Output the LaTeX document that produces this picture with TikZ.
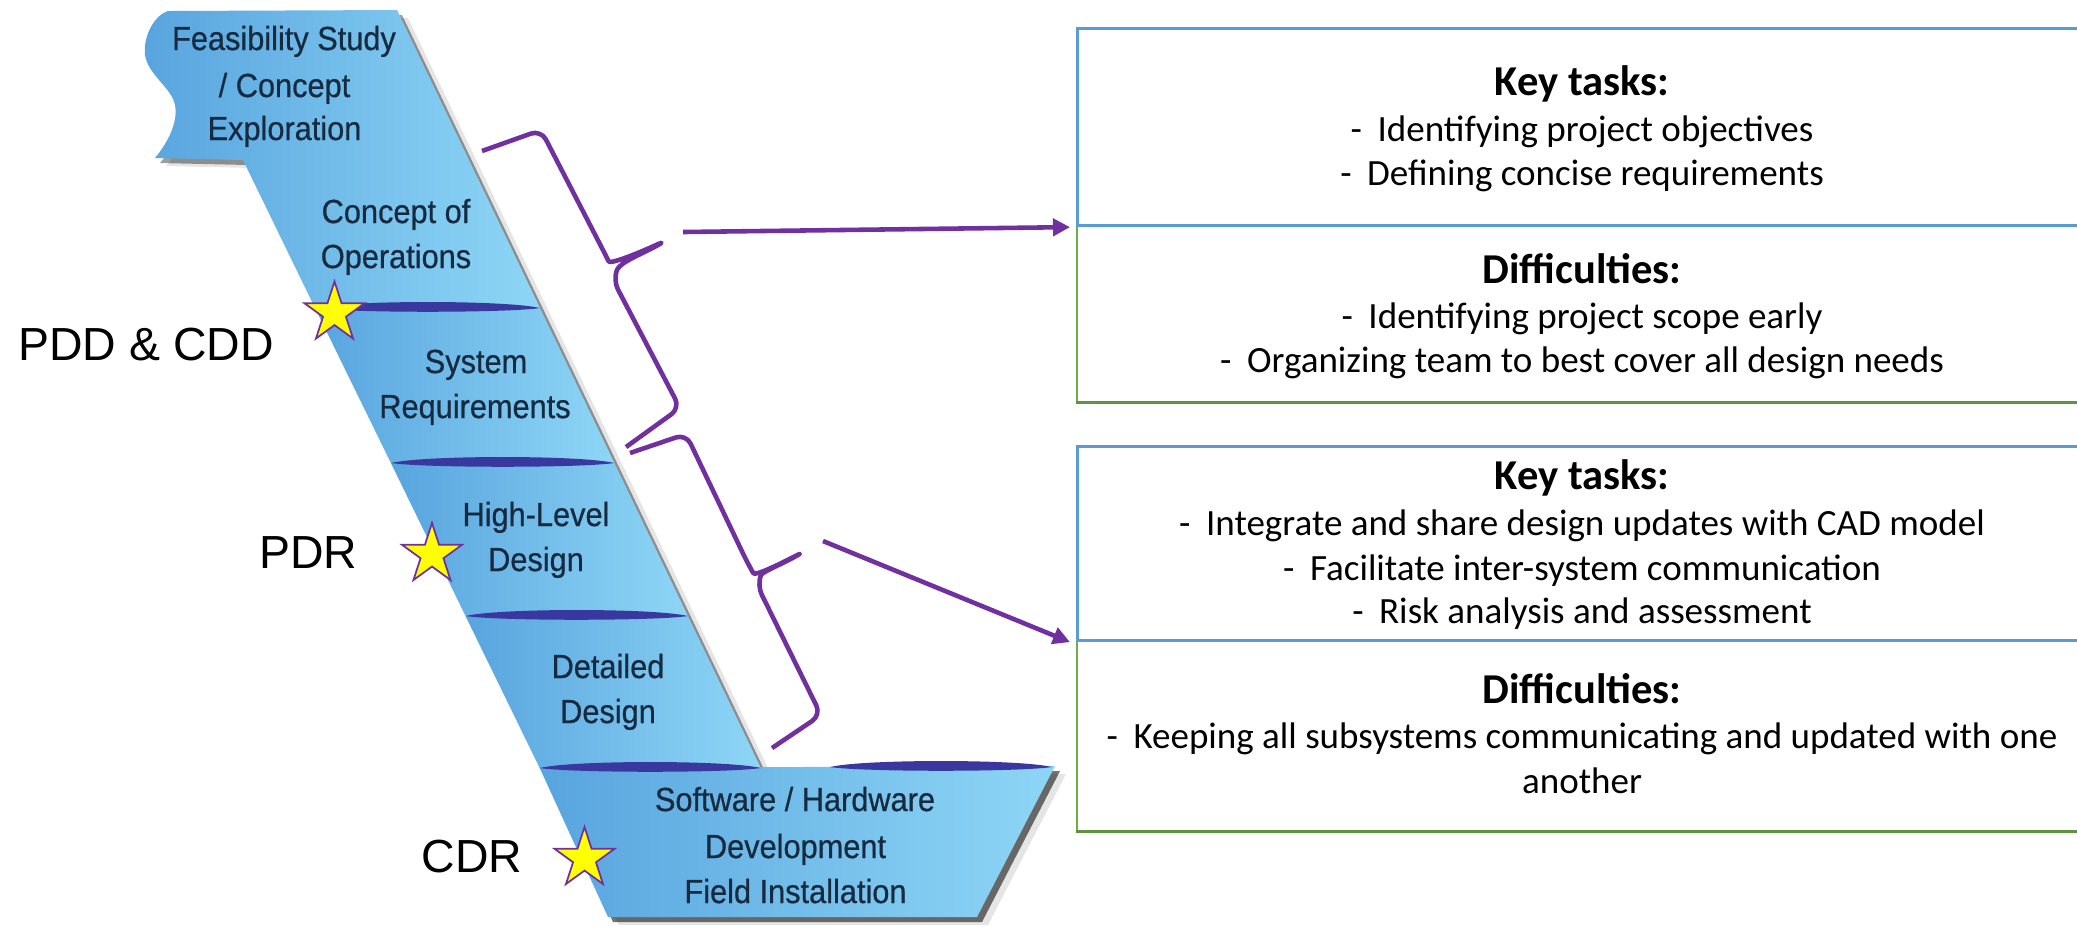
\documentclass[tikz,border=0pt]{standalone}
\usepackage{fontspec}
\usetikzlibrary{shapes.geometric,arrows.meta}
\newfontfamily\boxfont{Carlito}
\newfontfamily\labfont{Liberation Sans}
\newfontfamily\stepfont[FakeStretch=0.92,FakeBold=0.6]{Liberation Sans}

\definecolor{kblue}{HTML}{5B9BD5}
\definecolor{dgreen}{HTML}{70AD47}
\definecolor{dgreendark}{HTML}{5E9440}
\definecolor{brpurple}{HTML}{7030A0}
\definecolor{stepL}{RGB}{88,164,222}
\definecolor{stepR}{RGB}{142,214,246}
\definecolor{sepblue}{RGB}{56,56,158}
\definecolor{steptext}{RGB}{22,42,64}
\definecolor{starfill}{HTML}{FFFF00}

% outlines of the waterfall stages (units: 1 = 0.01cm, y grows downward)
\newcommand\stageA{(168,11) -- (397,10) -- (540,308) -- (315,308) -- (243,160) -- (155,158)
  .. controls (170,140) and (178,120) .. (175,105)
  .. controls (172,88) and (148,75) .. (145,55)
  .. controls (143,35) and (155,15) .. cycle}
\newcommand\stageB{(315,308) -- (540,308) -- (614.4,463) -- (390.9,463) -- cycle}
\newcommand\stageC{(390.9,463) -- (614.4,463) -- (687.9,616) -- (465.5,616) -- cycle}
\newcommand\stageD{(465.5,616) -- (687.9,616) -- (760.8,768) -- (539.7,768) -- cycle}
\newcommand\stageE{(539.7,768) -- (1055,766) -- (977,917) -- (608,917) -- cycle}

% dark lens separating two stages: left x, right x, y
\newcommand\seplens[3]{%
  \fill[sepblue] (#1,#3) .. controls ({#1+0.15*(#2-#1)},{#3-8}) and ({#2-0.15*(#2-#1)},{#3-8}) .. (#2,#3)
    .. controls ({#2-0.15*(#2-#1)},{#3+5}) and ({#1+0.15*(#2-#1)},{#3+5}) .. cycle;}

\tikzset{
  stagefill/.style={left color=stepL, right color=stepR},
  steptxt/.style={anchor=base, inner sep=0, text=steptext,
    font=\stepfont\fontsize{9.5pt}{10pt}\selectfont},
  milestone/.style={anchor=base, inner sep=0, text=black,
    font=\labfont\fontsize{13.2pt}{15pt}\selectfont},
  starnode/.style={star, star points=5, star point ratio=2.618, minimum size=0.63cm,
    inner sep=0, fill=starfill, draw=brpurple, line width=0.5pt},
  brace/.style={draw=brpurple, line width=1.3pt, line join=round, rounded corners=3pt},
  linkarrow/.style={draw=brpurple, line width=1.3pt, -{Triangle[length=0.17cm,width=0.17cm]}},
  taskbox/.style={anchor=north west, inner sep=0, minimum width=10.4cm, draw=kblue, line width=0.85pt},
  issuebox/.style={anchor=north west, inner sep=0, minimum width=10.4cm, draw=dgreen, line width=0.45pt},
  boxhead/.style={anchor=base, inner sep=0, font=\boxfont\bfseries\fontsize{12.1pt}{14pt}\selectfont},
  boxline/.style={anchor=base, inner sep=0, font=\boxfont\fontsize{10.53pt}{12.6pt}\selectfont},
}
\newcommand\dashitem{-\hspace{0.42em}}

\begin{document}
\begin{tikzpicture}[x=0.01cm, y=-0.01cm]
\clip (0,0) rectangle (2077,926);
\fill[white] (0,0) rectangle (2077,926);

% drop shadows of the stages
\begin{scope}[shift={(11,8)}]
  \fill[black, opacity=0.10] \stageA; \fill[black, opacity=0.10] \stageB;
  \fill[black, opacity=0.10] \stageC; \fill[black, opacity=0.10] \stageD;
  \fill[black, opacity=0.10] \stageE;
\end{scope}
\begin{scope}[shift={(5,5)}]
  \fill[black, opacity=0.38] \stageA; \fill[black, opacity=0.38] \stageB;
  \fill[black, opacity=0.38] \stageC; \fill[black, opacity=0.38] \stageD;
  \fill[black, opacity=0.55] \stageE;
\end{scope}

% stages
\shade[stagefill] \stageA;
\shade[stagefill] \stageB;
\shade[stagefill] \stageC;
\shade[stagefill] \stageD;
\shade[stagefill] \stageE;

% separators
\seplens{315.2}{540}{308}
\seplens{390.9}{614.4}{463}
\seplens{465.5}{687.9}{616}
\seplens{539.7}{760.8}{768}
\seplens{830}{1052}{767}

% stage labels
\node[steptxt] (fs1) at (284,50) {Feasibility Study};
\node[steptxt] (fs2) at (284.5,97) {/ Concept};
\node[steptxt] (fs3) at (284.5,140) {Exploration};
\node[steptxt] (co1) at (396,223) {Concept of};
\node[steptxt] (co2) at (396,268) {Operations};
\node[steptxt] (sr1) at (476,373) {System};
\node[steptxt] (sr2) at (475,418) {Requirements};
\node[steptxt] (hl1) at (536,526) {High-Level};
\node[steptxt] (hl2) at (536,571) {Design};
\node[steptxt] (dd1) at (608,678) {Detailed};
\node[steptxt] (dd2) at (608,723) {Design};
\node[steptxt] (sw1) at (795,811) {Software / Hardware};
\node[steptxt] (sw2) at (795.5,858) {Development};
\node[steptxt] (sw3) at (795.5,903) {Field Installation};

% review milestones
\node[starnode] (s1) at (334.5,313) {};
\node[starnode] (s2) at (432,554.5) {};
\node[starnode] (s3) at (584.5,858.5) {};
\node[milestone] (m1) at (146,360) {PDD \& CDD};
\node[milestone] (m2) at (308.5,568) {PDR};
\node[milestone] (m3) at (472,872) {CDR};

% information boxes
\node[issuebox, minimum height=1.75cm] (df1) at (1076,225.5) {};
\draw[dgreendark, line width=0.85pt] (df1.south west) -- (df1.south east);
\node[taskbox, minimum height=1.97cm] (kt1) at (1076,27) {};
\node[issuebox, minimum height=1.89cm] (df2) at (1076,640.5) {};
\draw[dgreendark, line width=0.85pt] (df2.south west) -- (df2.south east);
\node[taskbox, minimum height=1.94cm] (kt2) at (1076,445) {};

\node[boxhead] (kt1h) at (1582,95) {Key tasks:};
\node[boxline] (kt1a) at (1582,141) {\dashitem Identifying project objectives};
\node[boxline] (kt1b) at (1582,185) {\dashitem Defining concise requirements};
\node[boxhead] (df1h) at (1582,283) {Difficulties:};
\node[boxline] (df1a) at (1582,328) {\dashitem Identifying project scope early};
\node[boxline] (df1b) at (1582,372) {\dashitem Organizing team to best cover all design needs};

\node[boxhead] (kt2h) at (1582,489) {Key tasks:};
\node[boxline] (kt2a) at (1582,535) {\dashitem Integrate and share design updates with CAD model};
\node[boxline] (kt2b) at (1582,580) {\dashitem Facilitate inter-system communication};
\node[boxline] (kt2c) at (1582,623) {\dashitem Risk analysis and assessment};
\node[boxhead] (df2h) at (1582,703) {Difficulties:};
\node[boxline] (df2a) at (1582,748) {\dashitem Keeping all subsystems communicating and updated with one};
\node[boxline] (df2b) at (1582,793) {another};

% braces grouping the stages
\draw[brace] (482,151) -- (541,130) -- (604,252)
  .. controls (610,264) and (632,256) .. (667,240)
  .. controls (642,254) and (620,262) .. (613,280) -- (680,408) -- (626,447);
\draw[brace] (630,453) -- (686,434) -- (748,564)
  .. controls (755,576) and (776,566) .. (805,551)
  .. controls (782,564) and (762,572) .. (757,585) -- (821,715) -- (772,748);

% links from braces to boxes
\coordinate (b1) at (683,232);
\coordinate (b2) at (823,541);
\draw[linkarrow] (b1) -- ([xshift=-0.06cm]kt1.south west);
\draw[linkarrow] (b2) -- ([xshift=-0.06cm]kt2.south west);
\end{tikzpicture}
\end{document}
